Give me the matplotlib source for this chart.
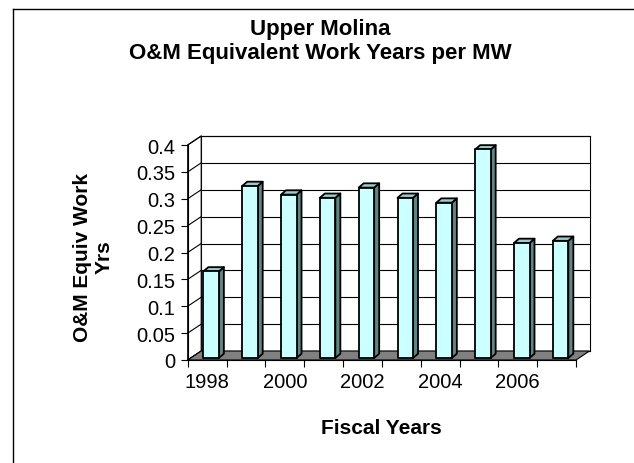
import matplotlib
matplotlib.use("Agg")
import matplotlib.pyplot as plt
from matplotlib.patches import Polygon
from matplotlib.lines import Line2D

years = [1998, 1999, 2000, 2001, 2002, 2003, 2004, 2005, 2006, 2007]
values = [0.161, 0.320, 0.304, 0.298, 0.317, 0.298, 0.289, 0.388, 0.214, 0.218]
yticks = [0, 0.05, 0.1, 0.15, 0.2, 0.25, 0.3, 0.35, 0.4]
ytick_labels = ["0", "0.05", "0.1", "0.15", "0.2", "0.25", "0.3", "0.35", "0.4"]
xtick_years = [1998, 2000, 2002, 2004, 2006]

plt.rcParams['font.family'] = ['Liberation Sans', 'DejaVu Sans']

W, H = 634, 464
fig = plt.figure(figsize=(W / 100, H / 100), dpi=100)

# front plane in pixels
x0p, x1p = 187.7, 576.0
y0p, y1p = 361.0, 146.0
ax = fig.add_axes([x0p / W, 1 - y0p / H, (x1p - x0p) / W, (y0p - y1p) / H])
n = len(years)
ymax = 0.4
ax.set_xlim(0, n)
ax.set_ylim(0, ymax)

cx = n / (x1p - x0p)        # category units per pixel
cy = ymax / (y0p - y1p)     # value units per pixel

# wall depth offset
wdx, wdy = 13.5 * cx, 9.0 * cy
# bar front offset and bar depth
fdx, fdy = 4.0 * cx, 2.0 * cy
bdx, bdy = 5.0 * cx, 4.3 * cy
bw = 15.5 * cx

kw = dict(clip_on=False)
# back wall
ax.add_patch(Polygon([(wdx, wdy), (n + wdx, wdy), (n + wdx, ymax + wdy), (wdx, ymax + wdy)],
                     closed=True, facecolor='white', edgecolor='black', lw=0.8, zorder=1, **kw))
# left wall
ax.add_patch(Polygon([(0, 0), (wdx, wdy), (wdx, ymax + wdy), (0, ymax)],
                     closed=True, facecolor='white', edgecolor='black', lw=0.8, zorder=1, **kw))
# gridlines
for t in yticks:
    ax.add_line(Line2D([wdx, n + wdx], [t + wdy, t + wdy], color='black', lw=0.8, zorder=1.5, **kw))
    ax.add_line(Line2D([0, wdx], [t, t + wdy], color='black', lw=0.8, zorder=1.5, **kw))
# floor
ax.add_patch(Polygon([(0, 0), (n, 0), (n + wdx, wdy), (wdx, wdy)],
                     closed=True, facecolor='#808080', edgecolor='black', lw=0.8, zorder=2, **kw))

front_c = '#ccffff'
top_c = '#99cccc'
side_c = '#5f8585'
for i, v in enumerate(values):
    xa = i + 0.5 - bw / 2 + fdx
    xb = xa + bw
    yb = fdy
    yt = fdy + v
    ax.add_patch(Polygon([(xb, yb), (xb + bdx, yb + bdy), (xb + bdx, yt + bdy), (xb, yt)],
                         closed=True, facecolor=side_c, edgecolor='black', lw=1.3,
                         joinstyle='round', zorder=3, **kw))
    ax.add_patch(Polygon([(xa, yt), (xb, yt), (xb + bdx, yt + bdy), (xa + bdx, yt + bdy)],
                         closed=True, facecolor=top_c, edgecolor='black', lw=1.3,
                         joinstyle='round', zorder=3, **kw))
    ax.add_patch(Polygon([(xa, yb), (xb, yb), (xb, yt), (xa, yt)],
                         closed=True, facecolor=front_c, edgecolor='black', lw=1.3,
                         joinstyle='round', zorder=4, **kw))

# axes styling
for s in ['top', 'right']:
    ax.spines[s].set_visible(False)
for s in ['left', 'bottom']:
    ax.spines[s].set_linewidth(0.8)
    ax.spines[s].set_zorder(5)
ax.patch.set_visible(False)

ax.set_yticks(yticks)
ax.set_yticklabels(ytick_labels, fontsize=14.5)
ax.tick_params(axis='y', length=5, width=0.8, pad=4)

ax.set_xticks(list(range(n + 1)), minor=True)
ax.tick_params(axis='x', which='minor', length=5, width=0.8)
ax.set_xticks([years.index(y) + 0.5 for y in xtick_years])
ax.set_xticklabels([str(y) for y in xtick_years], fontsize=14.5)
ax.tick_params(axis='x', which='major', length=0, pad=9)

# texts
fig.text(320 / W, 1 - 29 / H, "Upper Molina", ha='center', va='center',
         fontsize=16, fontweight='bold')
fig.text(320 / W, 1 - 54 / H, "O&M Equivalent Work Years per MW", ha='center', va='center',
         fontsize=16, fontweight='bold')
fig.text(93 / W, 1 - 257 / H, "O&M Equiv Work\nYrs", ha='center', va='center',
         rotation=90, fontsize=15, fontweight='bold', linespacing=1.15)
fig.text(381.5 / W, 1 - 429 / H, "Fiscal Years", ha='center', va='center',
         fontsize=15, fontweight='bold')

# outer border (left and top visible)
fig.add_artist(Line2D([12.5 / W, 12.5 / W], [0, 1 - 9.5 / H], transform=fig.transFigure,
                      color='black', lw=1.0))
fig.add_artist(Line2D([12.5 / W, 1], [1 - 9.5 / H, 1 - 9.5 / H], transform=fig.transFigure,
                      color='black', lw=1.0))

fig.savefig("out.png", dpi=100)
